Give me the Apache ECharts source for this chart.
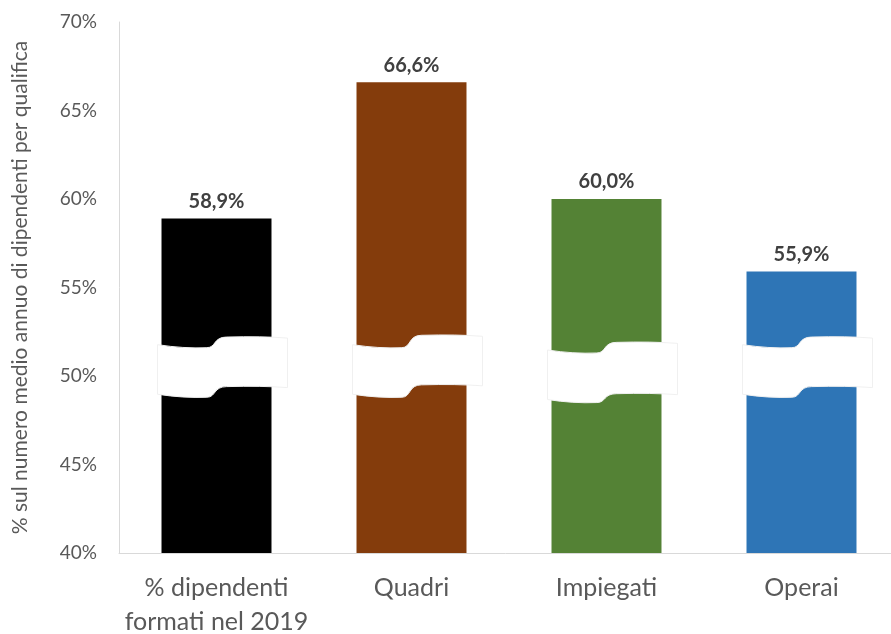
<!DOCTYPE html>
<html><head><meta charset="utf-8">
<script src="https://cdn.jsdelivr.net/npm/echarts@6/dist/echarts.min.js"></script>
<style>html,body{margin:0;padding:0;background:#fff}#c{width:891px;height:634px}</style>
</head><body><div id="c"></div>
<script>
const categories = ['% dipendenti\nformati nel 2019', 'Quadri', 'Impiegati', 'Operai'];
const values = [58.9, 66.6, 60.0, 55.9];
const colors = ['#000000', '#843C0C', '#548235', '#2E75B6'];
const yTicks = { min: 40, max: 70, interval: 5 };
// break band edges: [topLeft, topRight, bottomLeft, bottomRight] (values)
const breakTop = [[51.6, 52.2], [51.6, 52.3], [51.3, 51.9], [51.6, 52.2]];
const breakBottom = [[48.8, 49.4], [48.8, 49.5], [48.5, 49.0], [48.8, 49.4]];

const FONT = 'Lato';
const chart = echarts.init(document.getElementById('c'));
const gapFrac = 0.436;

function edge(xL, xR, yl, yr) {
  const w = xR - xL;
  return 'M' + xL + ',' + (yl - 3) +
    ' Q' + (xL + 0.2 * w) + ',' + (yl + 1) + ' ' + (xL + 0.38 * w) + ',' + yl +
    ' C' + (xL + 0.45 * w) + ',' + yl + ' ' + (xL + 0.43 * w) + ',' + yr + ' ' + (xL + 0.53 * w) + ',' + yr +
    ' Q' + (xL + 0.8 * w) + ',' + (yr - 1) + ' ' + xR + ',' + (yr + 1);
}
function edgeRev(xL, xR, yl, yr) {
  const w = xR - xL;
  return 'Q' + (xL + 0.8 * w) + ',' + (yr - 1) + ' ' + (xL + 0.53 * w) + ',' + yr +
    ' C' + (xL + 0.43 * w) + ',' + yr + ' ' + (xL + 0.45 * w) + ',' + yl + ' ' + (xL + 0.38 * w) + ',' + yl +
    ' Q' + (xL + 0.2 * w) + ',' + (yl + 1) + ' ' + xL + ',' + (yl - 3);
}

const breakData = categories.map((c, i) => [i, breakTop[i][0], breakTop[i][1], breakBottom[i][0], breakBottom[i][1]]);

chart.setOption({
  animation: false,
  grid: { left: 119, right: -8, top: 22, bottom: 81, containLabel: false, outerBoundsMode: 'none' },
  xAxis: {
    type: 'category', data: categories,
    axisLine: { lineStyle: { color: '#d9d9d9', width: 1 } },
    axisTick: { show: false },
    axisLabel: { interval: 0, color: '#595959', fontFamily: FONT, fontSize: 25, lineHeight: 34, margin: 18 }
  },
  yAxis: {
    type: 'value', min: yTicks.min, max: yTicks.max, interval: yTicks.interval,
    name: '% sul numero medio annuo di dipendenti per qualifica',
    nameLocation: 'middle', nameGap: 88,
    nameTextStyle: { color: '#595959', fontFamily: FONT, fontSize: 21 },
    axisLine: { show: true, lineStyle: { color: '#d9d9d9', width: 1 } },
    axisTick: { show: false },
    splitLine: { show: false },
    axisLabel: { color: '#595959', fontFamily: FONT, fontSize: 19, margin: 22, formatter: '{value}%' }
  },
  series: [{
    type: 'bar',
    barCategoryGap: (gapFrac * 100) + '%',
    data: values.map((v, i) => ({ value: v, itemStyle: { color: colors[i] } })),
    label: {
      show: true, position: 'top', distance: 7,
      color: '#404040', fontFamily: FONT, fontWeight: 'bold', fontSize: 20,
      formatter: p => p.value.toFixed(1).replace('.', ',') + '%'
    }
  }, {
    type: 'custom',
    z: 10,
    clip: false,
    data: breakData,
    renderItem: function (params, api) {
      const i = api.value(0);
      const band = api.size([1, 0])[0];
      const bw = band * (1 - gapFrac);
      const cx = api.coord([i, 50])[0];
      const xL = cx - bw / 2 - 4;
      const xR = cx + bw / 2 + 16;
      const tl = api.coord([i, api.value(1)])[1];
      const tr = api.coord([i, api.value(2)])[1];
      const bl = api.coord([i, api.value(3)])[1];
      const br = api.coord([i, api.value(4)])[1];
      const d = edge(xL, xR, tl, tr) + ' L' + xR + ',' + (br + 1) + ' ' +
        edgeRev(xL, xR, bl, br) + ' Z';
      return {
        type: 'path',
        shape: { pathData: d },
        style: { fill: '#ffffff', stroke: '#f0f0f0', lineWidth: 1 }
      };
    }
  }]
});
</script></body></html>
